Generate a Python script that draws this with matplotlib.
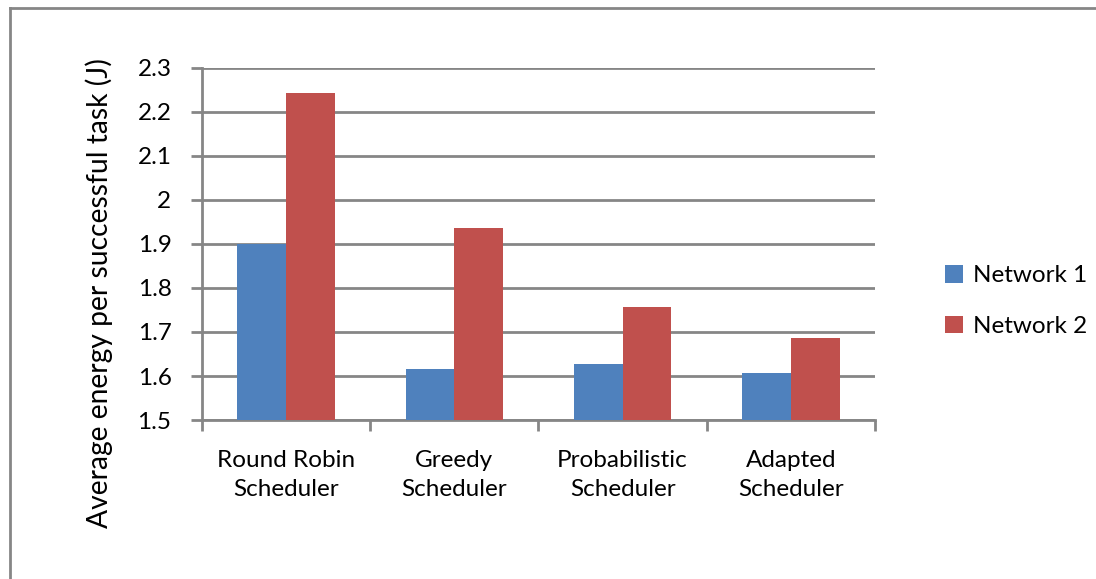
import matplotlib
matplotlib.use("Agg")
import matplotlib.pyplot as plt
import numpy as np

schedulers = ["Round Robin\nScheduler", "Greedy\nScheduler",
              "Probabilistic\nScheduler", "Adapted\nScheduler"]
network1 = [1.90, 1.617, 1.627, 1.606]
network2 = [2.242, 1.936, 1.756, 1.686]

plt.rcParams['font.family'] = ['Lato', 'DejaVu Sans']
grey = '#868686'

fig = plt.figure(figsize=(10.96, 5.79), dpi=100)
ax = fig.add_axes([0.1843, 0.2746, 0.6140, 0.6080])

x = np.arange(len(schedulers))
w = 0.29
ax.bar(x - w / 2, [v - 1.5 for v in network1], w, bottom=1.5,
       color='#4f81bd', label='Network 1', zorder=3)
ax.bar(x + w / 2, [v - 1.5 for v in network2], w, bottom=1.5,
       color='#c0504d', label='Network 2', zorder=3)

ax.set_xlim(-0.5, 3.5)
ax.set_ylim(1.5, 2.3)
ax.set_yticks(np.arange(1.5, 2.31, 0.1))
ax.set_yticklabels(['1.5', '1.6', '1.7', '1.8', '1.9', '2', '2.1', '2.2', '2.3'])
ax.yaxis.grid(True, color=grey, linewidth=2, zorder=0)

ax.set_xticks(np.arange(-0.5, 3.6, 1))
ax.set_xticklabels([])
ax.set_xticks(x, minor=True)
ax.set_xticklabels(schedulers, minor=True, linespacing=1.5)
ax.tick_params(axis='x', which='minor', length=0, pad=21.5, labelsize=17.5)
ax.tick_params(axis='x', which='major', length=8, width=2, color=grey)
ax.tick_params(axis='y', length=8, width=2, color=grey, labelsize=17.5, pad=14)

for s in ['top', 'right']:
    ax.spines[s].set_visible(False)
for s in ['left', 'bottom']:
    ax.spines[s].set_color(grey)
    ax.spines[s].set_linewidth(2)

ax.set_ylabel('Average energy per successful task (J)', fontsize=20.3,
              labelpad=17.5, y=0.36)

ax.legend(loc='center left', bbox_to_anchor=(945 / 1096, 1 - 301 / 579),
          bbox_transform=fig.transFigure, frameon=False, borderpad=0,
          borderaxespad=0, fontsize=17.5, handlelength=0.75, handleheight=0.75,
          handletextpad=0.4, labelspacing=1.2)

# outer chart frame
fig.add_artist(plt.Line2D([10 / 1096, 10 / 1096], [0, 1 - 8 / 579],
                          color=grey, linewidth=2))
fig.add_artist(plt.Line2D([10 / 1096, 1], [1 - 8 / 579, 1 - 8 / 579],
                          color=grey, linewidth=2))

fig.savefig('out.png', dpi=100)
